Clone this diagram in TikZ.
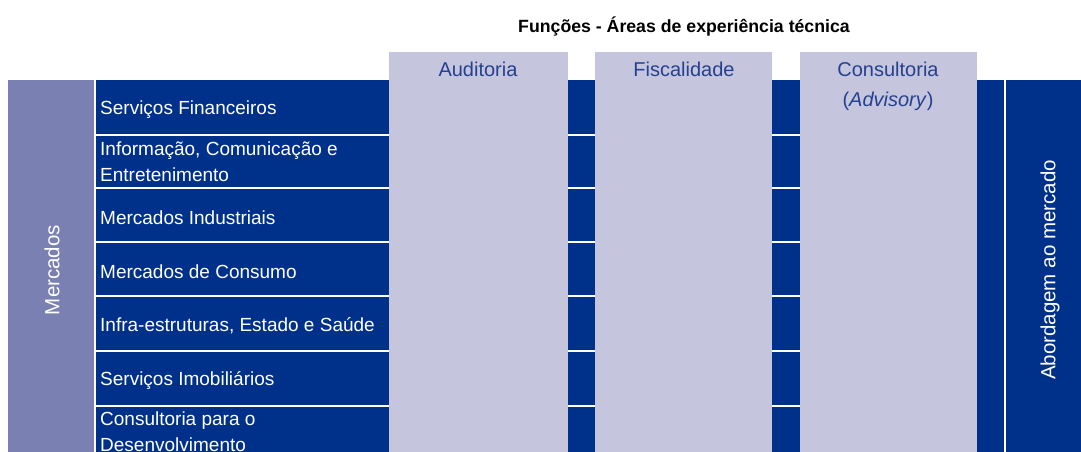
\documentclass[tikz,border=0pt]{standalone}
\usepackage{fontspec}
\setmainfont{Liberation Sans}
\definecolor{dblue}{HTML}{00318A}
\definecolor{lav}{HTML}{C5C5DE}
\definecolor{mblue}{HTML}{7A80B2}
\definecolor{htext}{HTML}{24418F}
\begin{document}
\begin{tikzpicture}[x=1pt,y=-1pt,
  box/.style={inner sep=0pt,outer sep=0pt,anchor=north west,draw=none},
  colbox/.style={box,fill=lav,minimum width=#1,minimum height=400pt},
  sepline/.style={white,line width=2pt},
  rowtext/.style={text=white,font=\fontsize{19}{26}\selectfont,inner sep=0pt,align=left},
  coltext/.style={text=htext,font=\fontsize{20}{30}\selectfont,inner sep=0pt,align=center},
  sidetext/.style={text=white,font=\fontsize{20.5}{24}\selectfont,inner sep=0pt,rotate=90}]
\useasboundingbox (0,0) rectangle (1081,452);
\fill[white] (0,0) rectangle (1081,452);
% title
\node[inner sep=0pt,font=\bfseries\fontsize{17.7}{20}\selectfont] (title) at (684,26) {Funções - Áreas de experiência técnica};
% main band
\node[box,fill=dblue,minimum width=908pt,minimum height=372pt] (band) at (96,80) {};
% row separators
\foreach \yy in {135,188,242,296,351,406}{
  \draw[sepline] (96,\yy) -- (977,\yy);
}
% left market box
\node[box,fill=mblue,minimum width=86pt,minimum height=372pt] (mercbox) at (8,80) {};
\node[sidetext] (merc) at (52,270) {Mercados};
% right box
\node[box,fill=dblue,minimum width=75pt,minimum height=372pt] (abbox) at (1006,80) {};
\node[sidetext] (abord) at (1050,270) {Abordagem ao mercado};
% columns
\node[colbox=179pt] (aud) at (389,52) {};
\node[colbox=177pt] (fis) at (595,52) {};
\node[colbox=177pt] (con) at (800,52) {};
\node[coltext,anchor=north] (audt) at (478,62) {Auditoria};
\node[coltext,anchor=north] (fist) at (684,62) {Fiscalidade};
\node[coltext,anchor=north] (cont) at (888,62) {Consultoria\\(\textit{Advisory})};
% row texts
\node[rowtext,anchor=west] (r1) at (100,110) {Serviços Financeiros};
\node[rowtext,anchor=north west] (r2) at (100,142) {Informação, Comunicação e\\Entretenimento};
\node[rowtext,anchor=west] (r3) at (100,218) {Mercados Industriais};
\node[rowtext,anchor=west] (r4) at (100,272) {Mercados de Consumo};
\node[rowtext,anchor=west] (r5) at (100,326) {Infra-estruturas, Estado e Saúde};
\node[rowtext,anchor=west] (r6) at (100,381) {Serviços Imobiliários};
\node[rowtext,anchor=north west] (r7) at (100,412) {Consultoria para o\\Desenvolvimento};
\end{tikzpicture}
\end{document}
